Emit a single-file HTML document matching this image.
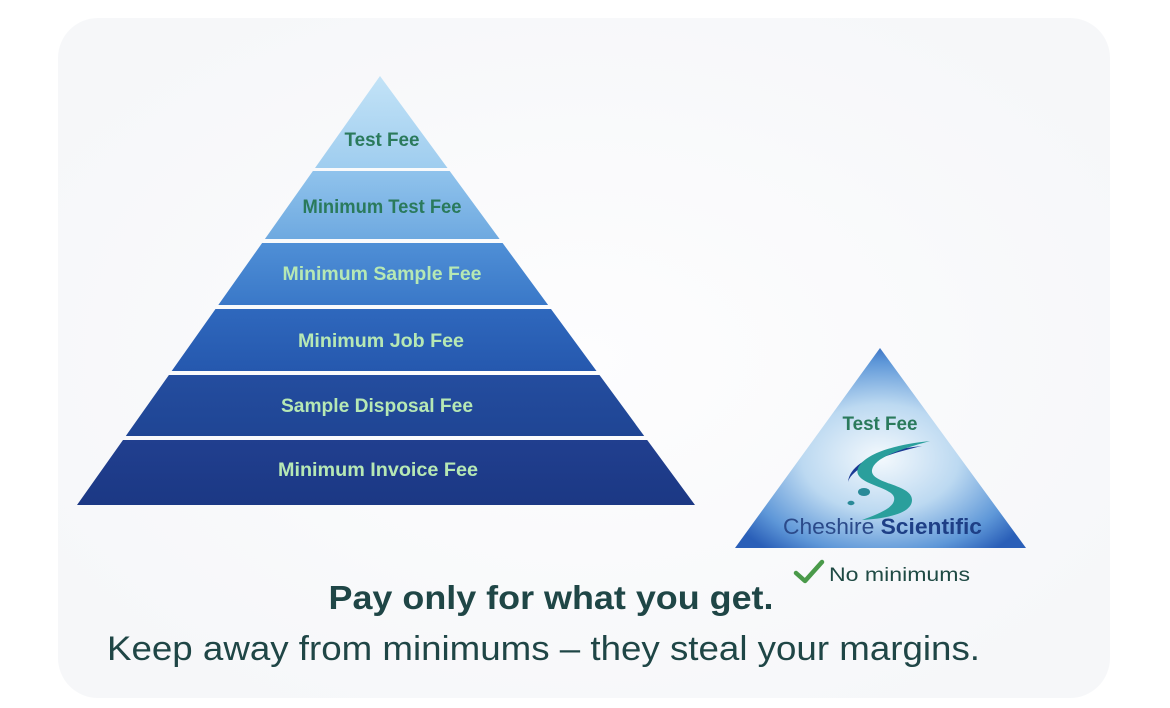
<!DOCTYPE html>
<html><head><meta charset="utf-8"><style>
html,body{margin:0;padding:0;background:#fff;}
svg{display:block;font-family:"Liberation Sans",sans-serif;}
</style></head><body>
<svg width="1170" height="708" viewBox="0 0 1170 708" xmlns="http://www.w3.org/2000/svg">
<defs>
<radialGradient id="bg" cx="50%" cy="50%" r="60%"><stop offset="0" stop-color="#fdfdfe"/><stop offset="1" stop-color="#f6f7f9"/></radialGradient>
<linearGradient id="b1" x1="0" y1="0" x2="0" y2="1"><stop offset="0" stop-color="#c3e3f7"/><stop offset="1" stop-color="#9fcdef"/></linearGradient>
<linearGradient id="b2" x1="0" y1="0" x2="0" y2="1"><stop offset="0" stop-color="#90c3ec"/><stop offset="1" stop-color="#6ea9e0"/></linearGradient>
<linearGradient id="b3" x1="0" y1="0" x2="0" y2="1"><stop offset="0" stop-color="#4f8fd6"/><stop offset="1" stop-color="#3a78c8"/></linearGradient>
<linearGradient id="b4" x1="0" y1="0" x2="0" y2="1"><stop offset="0" stop-color="#2f68bd"/><stop offset="1" stop-color="#2558ae"/></linearGradient>
<linearGradient id="b5" x1="0" y1="0" x2="0" y2="1"><stop offset="0" stop-color="#244d9f"/><stop offset="1" stop-color="#1f4594"/></linearGradient>
<linearGradient id="b6" x1="0" y1="0" x2="0" y2="1"><stop offset="0" stop-color="#213f8f"/><stop offset="1" stop-color="#1b3884"/></linearGradient>
<radialGradient id="sm" cx="50%" cy="55%" r="60%"><stop offset="0" stop-color="#f4f9fd"/><stop offset="0.45" stop-color="#bcd9f1"/><stop offset="0.8" stop-color="#5e97d8"/><stop offset="1" stop-color="#2a5fb8"/></radialGradient>
</defs>
<rect x="58" y="18" width="1052" height="680" rx="40" fill="url(#bg)"/>
<polygon points="380,76 447.5,168 315,168" fill="url(#b1)"/>
<polygon points="312.9,171 449.7,171 499.6,239 264.9,239" fill="url(#b2)"/>
<polygon points="262.1,243 502.6,243 548.1,305 218.3,305" fill="url(#b3)"/>
<polygon points="215.5,309 551,309 596.5,371 171.7,371" fill="url(#b4)"/>
<polygon points="168.9,375 599.5,375 644.2,436 125.8,436" fill="url(#b5)"/>
<polygon points="123,440 647.2,440 695,505 77,505" fill="url(#b6)"/>
<g font-weight="bold" font-size="19" text-anchor="middle">
<text x="382" y="146" fill="#2a7a5c" textLength="75" lengthAdjust="spacingAndGlyphs">Test Fee</text>
<text x="382" y="213" fill="#2a7a5c" textLength="159" lengthAdjust="spacingAndGlyphs">Minimum Test Fee</text>
<text x="382" y="280" fill="#b6e8b4" textLength="199" lengthAdjust="spacingAndGlyphs">Minimum Sample Fee</text>
<text x="381" y="347" fill="#b6e8b4" textLength="166" lengthAdjust="spacingAndGlyphs">Minimum Job Fee</text>
<text x="377" y="412" fill="#b6e8b4" textLength="192" lengthAdjust="spacingAndGlyphs">Sample Disposal Fee</text>
<text x="378" y="476" fill="#b6e8b4" textLength="200" lengthAdjust="spacingAndGlyphs">Minimum Invoice Fee</text>
</g>
<polygon points="880,348 1026,548 735,548" fill="url(#sm)"/>
<text x="880" y="430" fill="#2a7a5c" font-weight="bold" font-size="19" text-anchor="middle" textLength="75" lengthAdjust="spacingAndGlyphs">Test Fee</text>
<path d="M922,446 C880,450 850,462 848,482 C852,468 882,455 922,446 Z" fill="#1b3a94"/>
<path d="M858,468 C866,452 900,444 930,441 C898,450 874,458 872,470 C870,484 912,484 912,500 C912,512 892,518 862,520 C884,512 896,506 894,497 C890,486 852,484 858,468 Z" fill="#2a9f9c"/>
<ellipse cx="864" cy="492" rx="6" ry="4" fill="#2a8a98"/>
<ellipse cx="851" cy="503" rx="3.5" ry="2.2" fill="#2a8a98"/>
<text x="783" y="534" font-size="22" fill="#2b4a8a" textLength="199" lengthAdjust="spacingAndGlyphs">Cheshire <tspan font-weight="bold" fill="#1e3f86">Scientific</tspan></text>
<path d="M796,573 L805,581 L822,562" fill="none" stroke="#4a9a4a" stroke-width="4.5" stroke-linecap="round" stroke-linejoin="round"/>
<text x="829" y="581" font-size="19" fill="#1f4a44" textLength="141" lengthAdjust="spacingAndGlyphs">No minimums</text>
<text x="551" y="609" font-size="33" font-weight="bold" fill="#1f4646" text-anchor="middle" textLength="445" lengthAdjust="spacingAndGlyphs">Pay only for what you get.</text>
<text x="107" y="660" font-size="34" fill="#1f4646" textLength="873" lengthAdjust="spacingAndGlyphs">Keep away from minimums – they steal your margins.</text>
</svg>
</body></html>
